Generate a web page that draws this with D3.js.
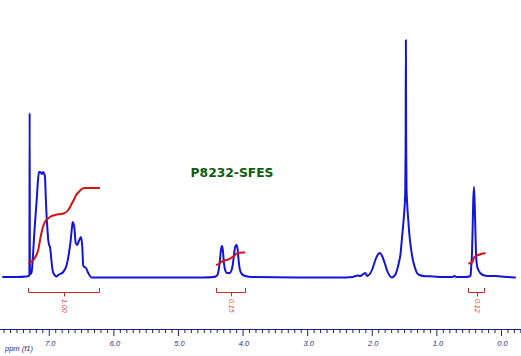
<!DOCTYPE html>
<html><head><meta charset="utf-8">
<script src="https://cdn.jsdelivr.net/npm/d3@7"></script>
<style>html,body{margin:0;padding:0;background:#fff;overflow:hidden}</style>
</head><body>
<svg id="chart" width="521" height="356"></svg>
<script>
// ---- data ----
const title = "P8232-SFES";
const axisTitle = "ppm (f1)";
const tickLabels = ["7.0","6.0","5.0","4.0","3.0","2.0","1.0","0.0"];
const tickValues = [7,6,5,4,3,2,1,0];

const specPpm = [7.72,7.50,7.35,7.31,7.300,7.296,7.292,7.28,7.265,7.245,7.224,7.205,7.187,7.17,7.152,7.135,7.12,7.105,7.09,7.075,7.059,7.046,7.033,7.02,7.008,6.995,6.981,6.968,6.955,6.93,6.878,6.853,6.776,6.723,6.687,6.66,6.645,6.63,6.615,6.605,6.583,6.558,6.54,6.527,6.502,6.481,6.466,6.445,6.424,6.389,6.336,6.25,5.5,4.6,4.45,4.42,4.39,4.37,4.35,4.335,4.32,4.305,4.29,4.27,4.24,4.20,4.17,4.15,4.13,4.11,4.09,4.075,4.06,4.04,4.01,3.96,3.85,3.0,2.5,2.30,2.22,2.18,2.13,2.10,2.07,2.03,1.99,1.95,1.91,1.875,1.84,1.80,1.76,1.72,1.69,1.66,1.63,1.60,1.575,1.555,1.535,1.515,1.495,1.482,1.476,1.472,1.468,1.462,1.45,1.435,1.42,1.40,1.38,1.36,1.33,1.30,1.26,1.20,1.05,0.90,0.75,0.72,0.69,0.55,0.49,0.47,0.46,0.45,0.44,0.43,0.418,0.405,0.395,0.385,0.37,0.35,0.32,0.28,0.20,0.10,0.00,-0.10,-0.23];
const specInt = [1,1,1.5,2,4,165,4,4,6,22,45,62,78,95,106,106,105,104,106,105,101,80,61,48,38,33,31,24,15,5,1.5,3,6,13,25,38,48,56,54,51,35,33,36,38,41,31,12,11,10,5,0.5,0.5,0.5,0.5,1,1.5,3,8,18,28,32,28,16,8,5,5,8,14,25,32,33,28,17,8,4,2,1,0.5,0.5,1,2.5,2,4,5,2,4,9,17,23,25,22,15,7,2,0.5,1.5,4,10,17,24,38,52,68,85,130,238,140,90,72,58,45,33,24,17,10,5,3,2,1.5,1,1,2,1,1,1.5,3,12,22,45,75,91,70,45,22,12,8,5,3,2,2,1.5,1,0.5];

const integ1Ppm = [7.317,7.28,7.245,7.20,7.163,7.135,7.11,7.085,7.059,7.02,6.981,6.90,6.776,6.73,6.698,6.655,6.613,6.575,6.535,6.49,6.44,6.207];
const integ1Val = [14.7,16,17.5,22,28,38,46,52,56,59,61,63,64.5,66,68,73,78,83,86,89,90,90];
const integ2Ppm = [4.41,4.37,4.33,4.28,4.22,4.18,4.13,4.10,4.07,4.00,3.96];
const integ2Val = [13,14,16,17.5,18.5,20,22,24,25,25.5,25.5];
const integ3Ppm = [0.506,0.46,0.44,0.42,0.40,0.37,0.33,0.28,0.237];
const integ3Val = [14.5,15,16.5,20,21.5,22.5,23.5,24.5,24.7];

const bracketFrom = [7.32, 4.41, 0.505];
const bracketTo = [6.23, 3.97, 0.26];
const integralLabels = ["1.00", "0.15", "0.12"];

// ---- drawing ----
const svg = d3.select("#chart");
const x = d3.scaleLinear().domain([7.755, -0.31]).range([0, 521]);
const y = d3.scaleLinear().domain([0, 278]).range([278, 0]);

const line = d3.line().x(d => x(d[0])).y(d => y(d[1])).curve(d3.curveMonotoneX);

svg.append("path")
  .datum(specPpm.map((p, i) => [p, specInt[i]]))
  .attr("d", line)
  .attr("fill", "none")
  .attr("stroke", "#1414d8")
  .attr("stroke-width", 2)
  .attr("stroke-linejoin", "round");

const integrals = [[integ1Ppm, integ1Val], [integ2Ppm, integ2Val], [integ3Ppm, integ3Val]];
integrals.forEach(([pp, vv]) => {
  svg.append("path")
    .datum(pp.map((p, i) => [p, vv[i]]))
    .attr("d", line)
    .attr("fill", "none")
    .attr("stroke", "#d41414")
    .attr("stroke-width", 2);
});

// brackets
const bY = 292;
bracketFrom.forEach((f, i) => {
  const x1 = Math.round(x(f)) + 0.5, x2 = Math.round(x(bracketTo[i])) + 0.5;
  const xm = Math.round((x1 + x2) / 2) + 0.5;
  const g = svg.append("g").attr("stroke", "#c82828").attr("stroke-width", 1).attr("fill", "none");
  g.append("path").attr("d", `M${x1},${bY - 4}V${bY + 0.5}H${x2}V${bY - 4}`);
  g.append("line").attr("x1", xm).attr("x2", xm).attr("y1", bY).attr("y2", bY + 4.5);
  svg.append("text")
    .attr("transform", `translate(${xm - 2.5},${bY + 7}) rotate(90)`)
    .attr("font-family", "Liberation Sans, Arial, sans-serif")
    .attr("font-style", "italic")
    .attr("font-size", 7)
    .attr("fill", "#e03c3c")
    .text(integralLabels[i]);
});

// axis
const axisY = 329;
const axisColor = "#1f1f80";
const axis = d3.axisBottom(x)
  .tickValues(d3.range(-3, 78).map(d => d / 10))
  .tickSize(4)
  .tickFormat("");
const ag = svg.append("g").attr("transform", `translate(0,${axisY})`).call(axis);
ag.select(".domain").remove();
ag.selectAll("line").attr("stroke", axisColor);
ag.selectAll(".tick").filter(d => Math.abs(d - Math.round(d)) < 1e-6)
  .select("line").attr("y2", 7);
svg.append("line").attr("x1", 0).attr("x2", 521).attr("y1", axisY + 0.5).attr("y2", axisY + 0.5)
  .attr("stroke", axisColor).attr("stroke-width", 1);

svg.append("g").selectAll("text").data(tickValues).join("text")
  .attr("x", d => x(d) + 1.5)
  .attr("y", 346)
  .attr("text-anchor", "middle")
  .attr("font-family", "Liberation Sans, Arial, sans-serif")
  .attr("font-style", "italic")
  .attr("font-size", 7.5)
  .attr("fill", axisColor)
  .text((d, i) => tickLabels[i]);

svg.append("text")
  .attr("x", 5).attr("y", 351)
  .attr("font-family", "Liberation Sans, Arial, sans-serif")
  .attr("font-style", "italic")
  .attr("font-size", 7.5)
  .attr("fill", axisColor)
  .text(axisTitle);

svg.append("text")
  .attr("x", 232).attr("y", 177)
  .attr("text-anchor", "middle")
  .attr("font-family", "DejaVu Sans, sans-serif")
  .attr("font-weight", "bold")
  .attr("font-size", 12.3)
  .attr("fill", "#0b5c0b")
  .text(title);
</script>
</body></html>
